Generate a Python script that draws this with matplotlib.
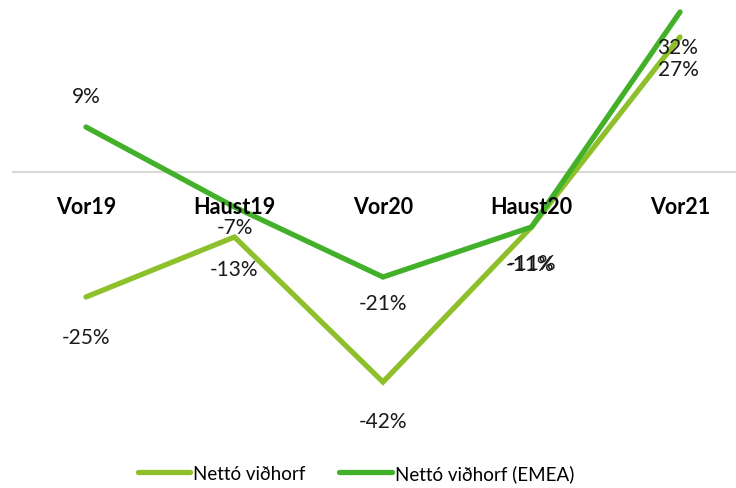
import matplotlib.pyplot as plt

# data
categories = ['Vor19', 'Haust19', 'Vor20', 'Haust20', 'Vor21']
netto = [-25, -13, -42, -11, 27]
netto_emea = [9, -7, -21, -11, 32]

# label offsets (pixels, + is up) for each series
off_netto = [(0, -40), (0, -32), (0, -39), (-1, -37), (-2, -32)]
off_emea = [(0, 31), (0, -20), (0, -26), (1, -36), (-2, -35)]

light = '#8DC02A'
dark = '#43B02A'

plt.rcParams['font.family'] = ['Lato', 'DejaVu Sans']

fig = plt.figure(figsize=(7.36, 4.89), dpi=100)
ax = fig.add_axes([12 / 736, 49 / 489, 724 / 736, 440 / 489])

x = list(range(len(categories)))
ax.plot(x, netto, color=light, lw=3.8, solid_capstyle='round', solid_joinstyle='miter', label='Nettó viðhorf')
ax.plot(x, netto_emea, color=dark, lw=3.8, solid_capstyle='round', solid_joinstyle='miter', label='Nettó viðhorf (EMEA)')

ax.axhline(0, color='#D9D9D9', lw=1.5, zorder=0)

px = 0.72  # pixels -> points
for xi, v, (dx, dy) in zip(x, netto, off_netto):
    ax.annotate(f'{v}%', (xi, v), xytext=(dx * px, dy * px), textcoords='offset points',
                ha='center', va='center', fontsize=15, color='#1a1a1a')
for xi, v, (dx, dy) in zip(x, netto_emea, off_emea):
    ax.annotate(f'{v}%', (xi, v), xytext=(dx * px, dy * px), textcoords='offset points',
                ha='center', va='center', fontsize=15, color='#1a1a1a')

# category labels just under the zero line
for xi, c in zip(x, categories):
    ax.annotate(c, (xi, 0), xytext=(0, -34 * px), textcoords='offset points',
                ha='center', va='center', fontsize=15.5, fontweight='bold')

ax.set_xlim(-0.498, 4.377)
ax.set_ylim(-53.4, 34.6)
ax.axis('off')

fig.legend(loc='center', bbox_to_anchor=(356 / 736, 15 / 489), ncol=2, frameon=False,
           fontsize=13.5, handlelength=2.8, handletextpad=0.15, columnspacing=1.8)

fig.savefig('out.png', dpi=100)
